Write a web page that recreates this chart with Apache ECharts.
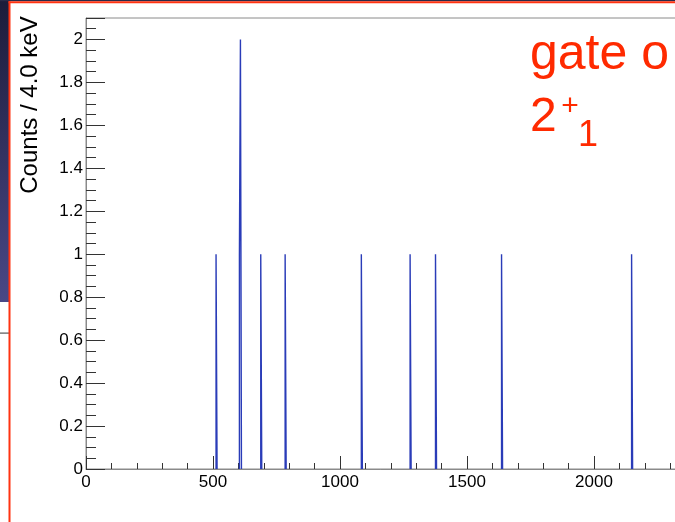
<!DOCTYPE html>
<html>
<head>
<meta charset="utf-8">
<script src="https://cdn.jsdelivr.net/npm/echarts@6/dist/echarts.min.js"></script>
<style>html,body{margin:0;padding:0;background:#fff;}#c{width:675px;height:522px;}</style>
</head>
<body>
<div id="c"></div>
<script>
// Histogram data (bin centres in keV, 4 keV bins)
var binWidth = 4;
var binCenters = [514, 606, 610, 690, 786, 1086, 1278, 1378, 1638, 2150];
var binCounts  = [1,   1,   2,   1,   1,   1,    1,    1,    1,    1];
var xTicks = [0, 500, 1000, 1500, 2000, 2500];
var yTicks = [0, 0.2, 0.4, 0.6, 0.8, 1, 1.2, 1.4, 1.6, 1.8, 2];
var yTitle = 'Counts / 4.0 keV';

// build step outlines, one per cluster of adjacent bins
var clusters = [];
var cur = null;
for (var i = 0; i < binCenters.length; i++) {
  var lo = binCenters[i] - binWidth / 2, hi = binCenters[i] + binWidth / 2;
  if (cur && Math.abs(cur.hi - lo) < 1e-6) {
    cur.pts.push([lo, binCounts[i]], [hi, binCounts[i]]);
    cur.hi = hi;
  } else {
    if (cur) { cur.pts.push([cur.hi, 0]); clusters.push(cur); }
    cur = { hi: hi, pts: [[lo, 0], [lo, binCounts[i]], [hi, binCounts[i]]] };
  }
}
if (cur) { cur.pts.push([cur.hi, 0]); clusters.push(cur); }

var lineColor = '#2a3cb8';
var series = clusters.map(function (c) {
  return {
    type: 'line', data: c.pts, showSymbol: false, symbol: 'none',
    lineStyle: { color: lineColor, width: 1.4 }, animation: false, z: 3
  };
});

var font = '"Liberation Sans", Arial, sans-serif';
var chart = echarts.init(document.getElementById('c'), null, { renderer: 'canvas' });
chart.setOption({
  backgroundColor: '#ffffff',
  animation: false,
  grid: {
    left: 86, top: 18, bottom: 53, right: -46,
    show: true, borderColor: '#8a8a8a', borderWidth: 1,
    outerBoundsMode: 'none', containLabel: false
  },
  xAxis: {
    type: 'value', min: xTicks[0], max: xTicks[xTicks.length - 1], interval: 500,
    axisLine: { show: true, lineStyle: { color: '#8a8a8a', width: 1 } },
    axisTick: { show: true, inside: true, length: 13, lineStyle: { color: '#333', width: 1 } },
    minorTick: { show: true, splitNumber: 5, length: 6, lineStyle: { color: '#333', width: 1 } },
    splitLine: { show: false },
    axisLabel: {
      color: '#000', fontSize: 17, fontFamily: font, margin: 5,
      formatter: function (v) { return String(Math.round(v)); }
    }
  },
  yAxis: {
    type: 'value', min: 0, max: 2.1, interval: 0.2,
    axisLine: { show: true, lineStyle: { color: '#8a8a8a', width: 1 } },
    axisTick: { show: true, inside: true, length: 19, lineStyle: { color: '#333', width: 1 } },
    minorTick: { show: true, splitNumber: 4, length: 10, lineStyle: { color: '#333', width: 1 } },
    splitLine: { show: false },
    axisLabel: {
      color: '#000', fontSize: 17, fontFamily: font, margin: 3, showMaxLabel: false,
      formatter: function (v) {
        for (var k = 0; k < yTicks.length; k++) if (Math.abs(yTicks[k] - v) < 1e-6) return String(yTicks[k]);
        return '';
      }
    }
  },
  series: series,
  graphic: [
    { type: 'rect', shape: { x: 0, y: 0, width: 9, height: 302 }, silent: true, z: 100,
      style: { fill: new echarts.graphic.LinearGradient(0, 0, 0, 1, [
        { offset: 0, color: '#1c1c3a' }, { offset: 1, color: '#4a4886' }]) } },
    { type: 'rect', shape: { x: 0, y: 332.5, width: 9, height: 1.2 }, silent: true, z: 100, style: { fill: '#555' } },
    { type: 'rect', shape: { x: 0, y: 0, width: 675, height: 1.2 }, silent: true, z: 100, style: { fill: '#2a2a48' } },
    { type: 'rect', shape: { x: 8.5, y: 1.2, width: 666.5, height: 2 }, silent: true, z: 100, style: { fill: '#ff3311' } },
    { type: 'rect', shape: { x: 8.5, y: 1.2, width: 2, height: 521 }, silent: true, z: 100, style: { fill: '#ff3311' } },
    { type: 'text', silent: true, z: 100, x: 30, y: 105, rotation: Math.PI / 2,
      style: { text: yTitle, fontSize: 24, fontFamily: font, fill: '#000', align: 'center', verticalAlign: 'middle' } },
    { type: 'text', silent: true, z: 100, x: 530, y: 55,
      style: { text: 'gate o', fontSize: 50, fontFamily: font, fill: '#ff2a00', align: 'left', verticalAlign: 'middle' } },
    { type: 'text', silent: true, z: 100, x: 530, y: 118,
      style: { text: '2', fontSize: 48, fontFamily: font, fill: '#ff2a00', align: 'left', verticalAlign: 'middle' } },
    { type: 'text', silent: true, z: 100, x: 570, y: 107,
      style: { text: '+', fontSize: 30, fontFamily: font, fill: '#ff2a00', align: 'center', verticalAlign: 'middle' } },
    { type: 'text', silent: true, z: 100, x: 588, y: 136,
      style: { text: '1', fontSize: 36, fontFamily: font, fill: '#ff2a00', align: 'center', verticalAlign: 'middle' } }
  ]
});
</script>
</body>
</html>
